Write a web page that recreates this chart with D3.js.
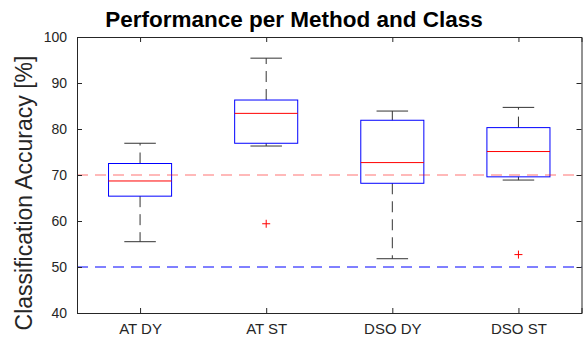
<!DOCTYPE html>
<html>
<head>
<meta charset="utf-8">
<script src="https://cdn.jsdelivr.net/npm/d3@7"></script>
<style>
  body { margin: 0; background: #fff; }
  svg text { font-family: "Liberation Sans", Arial, sans-serif; }
</style>
</head>
<body>
<div id="chart"></div>
<script>
const methods = ["AT DY", "AT ST", "DSO DY", "DSO ST"];
const whiskerLow = [55.5, 76.3, 51.8, 68.9];
const quartile1 = [65.4, 76.9, 68.2, 69.6];
const medians = [68.7, 83.4, 72.7, 75.1];
const quartile3 = [72.5, 86.3, 81.9, 80.3];
const whiskerHigh = [76.9, 95.4, 83.9, 84.7];
const outliers = [[], [59.4], [], [52.7]];
const yTicks = [40, 50, 60, 70, 80, 90, 100];
const refLines = [{ value: 70, color: "#ff0000", opacity: 0.55 }, { value: 50, color: "#0000ff", opacity: 1 }];

const W = 586, H = 341;
const margin = { top: 37, right: 4.5, bottom: 28, left: 77 };
const width = W - margin.left - margin.right,
    height = H - margin.top - margin.bottom;

const svg = d3.select("#chart").append("svg")
    .attr("width", W)
    .attr("height", H);

const g = svg.append("g")
    .attr("transform", `translate(${margin.left},${margin.top})`);

const x = d3.scaleLinear().domain([0.5, methods.length + 0.5]).range([0, width]);
const y = d3.scaleLinear().domain([40, 100]).range([height, 0]);
const boxW = x(1.25) - x(0.75);
const capW = boxW / 2;

const axisColor = "#262626";
const whiskerColor = "#333";

const data = methods.map((m, i) => ({
    name: m, pos: i + 1,
    lo: whiskerLow[i], q1: quartile1[i], med: medians[i], q3: quartile3[i], hi: whiskerHigh[i],
    out: outliers[i]
}));

const box = g.selectAll(".box").data(data).enter().append("g").attr("class", "box");

// whiskers
box.append("line")
    .attr("x1", d => x(d.pos)).attr("x2", d => x(d.pos))
    .attr("y1", d => y(d.q3)).attr("y2", d => y(d.hi))
    .attr("stroke", whiskerColor).attr("stroke-dasharray", "11,7");
box.append("line")
    .attr("x1", d => x(d.pos)).attr("x2", d => x(d.pos))
    .attr("y1", d => y(d.q1)).attr("y2", d => y(d.lo))
    .attr("stroke", whiskerColor).attr("stroke-dasharray", "11,7");
// caps
box.selectAll(".cap").data(d => [d.lo, d.hi].map(v => ({ pos: d.pos, v }))).enter().append("line")
    .attr("class", "cap")
    .attr("x1", d => x(d.pos) - capW / 2).attr("x2", d => x(d.pos) + capW / 2)
    .attr("y1", d => y(d.v)).attr("y2", d => y(d.v))
    .attr("stroke", whiskerColor);
// box
box.append("rect")
    .attr("x", d => x(d.pos) - boxW / 2)
    .attr("y", d => y(d.q3))
    .attr("width", boxW)
    .attr("height", d => y(d.q1) - y(d.q3))
    .attr("fill", "none")
    .attr("stroke", "#0000ff");
// median
box.append("line")
    .attr("x1", d => x(d.pos) - boxW / 2).attr("x2", d => x(d.pos) + boxW / 2)
    .attr("y1", d => y(d.med)).attr("y2", d => y(d.med))
    .attr("stroke", "#ff0000");
// outliers
box.selectAll(".out").data(d => d.out.map(v => ({ pos: d.pos, v }))).enter().append("path")
    .attr("class", "out")
    .attr("d", d => `M${x(d.pos) - 4},${y(d.v)}h8M${x(d.pos)},${y(d.v) - 4}v8`)
    .attr("stroke", "#ff0000");

// reference lines
g.selectAll(".ref").data(refLines).enter().append("line")
    .attr("class", "ref")
    .attr("x1", 0).attr("x2", width)
    .attr("y1", d => y(d.value)).attr("y2", d => y(d.value))
    .attr("stroke", d => d.color)
    .attr("stroke-opacity", d => d.opacity)
    .attr("stroke-dasharray", "11,7");

// axes
const yAxis = d3.axisLeft(y).tickValues(yTicks).tickSize(-5).tickPadding(10);
const xAxis = d3.axisBottom(x).tickValues(d3.range(1, methods.length + 1))
    .tickFormat(d => methods[d - 1]).tickSize(-5).tickPadding(10.5);

const gy = g.append("g").call(yAxis);
const gx = g.append("g").attr("transform", `translate(0,${height})`).call(xAxis);
const gyr = g.append("g").attr("transform", `translate(${width},0)`)
    .call(d3.axisRight(y).tickValues(yTicks).tickSize(-5).tickFormat(""));
const gxt = g.append("g")
    .call(d3.axisTop(x).tickValues(d3.range(1, methods.length + 1)).tickSize(-5).tickFormat(""));

[gy, gx, gyr, gxt].forEach(a => {
    a.select(".domain").attr("stroke", axisColor);
    a.selectAll(".tick line").attr("stroke", axisColor);
    a.selectAll(".tick text").attr("fill", axisColor);
});
gy.selectAll(".tick text").style("font-size", "14px");
gx.selectAll(".tick text").style("font-size", "15px");

// title
svg.append("text")
    .attr("x", 294)
    .attr("y", 27)
    .attr("text-anchor", "middle")
    .style("font-size", "22.5px")
    .style("font-weight", "bold")
    .attr("fill", "#000")
    .text("Performance per Method and Class");

// y label
svg.append("text")
    .attr("transform", "translate(31.5,193) rotate(-90)")
    .attr("text-anchor", "middle")
    .style("font-size", "23px")
    .attr("fill", axisColor)
    .text("Classification Accuracy [%]");
</script>
</body>
</html>
